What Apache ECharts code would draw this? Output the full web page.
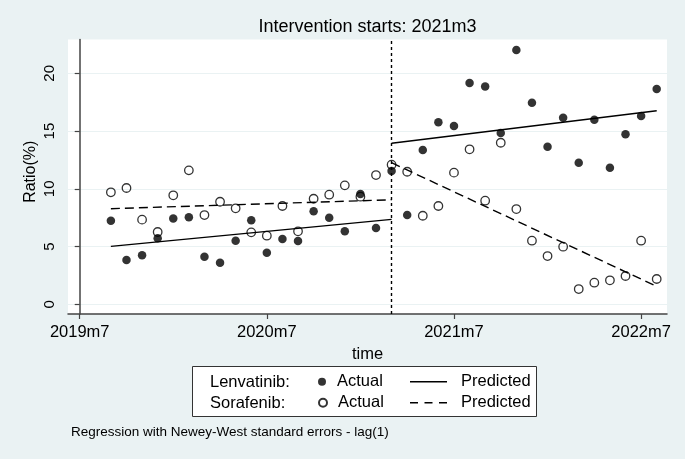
<!DOCTYPE html>
<html><head><meta charset="utf-8">
<script src="https://cdn.jsdelivr.net/npm/echarts@6/dist/echarts.min.js"></script>
<style>html,body{margin:0;padding:0;background:#eaf2f3}#c{width:685px;height:459px}</style>
</head><body><div id="c"></div>
<script>
// ---- data ----
const periods = ['2019m9','2019m10','2019m11','2019m12',
  '2020m1','2020m2','2020m3','2020m4','2020m5','2020m6','2020m7','2020m8','2020m9','2020m10','2020m11','2020m12',
  '2021m1','2021m2','2021m3','2021m4','2021m5','2021m6','2021m7','2021m8','2021m9','2021m10','2021m11','2021m12',
  '2022m1','2022m2','2022m3','2022m4','2022m5','2022m6','2022m7','2022m8'];
const lenvatinibActual = [7.24,3.84,4.24,5.71,7.44,7.53,4.12,3.60,5.51,7.27,4.47,5.65,5.48,8.05,7.50,6.32,9.55,6.61,
  11.54,7.73,13.36,15.76,15.44,19.16,18.87,14.83,22.02,17.46,13.65,16.16,12.26,15.98,11.83,14.72,16.30,18.64];
const sorafenibActual = [9.70,10.07,7.33,6.26,9.44,11.60,7.73,8.88,8.31,6.23,5.94,8.51,6.32,9.14,9.49,10.30,9.32,11.19,
  12.09,11.48,7.67,8.51,11.40,13.42,8.97,13.99,8.25,5.51,4.18,4.99,1.32,1.87,2.08,2.45,5.51,2.19];
const prePeriods = ['2019m9','2021m3'];
const postPeriods = ['2021m3','2022m8'];
const lenvatinibPredPre = [5.02, 7.35];
const lenvatinibPredPost = [13.94, 16.76];
const sorafenibPredPre = [8.28, 9.05];
const sorafenibPredPost = [12.26, 1.55];
const interventionPeriod = '2021m3';
const xTickLabels = ['2019m7','2020m7','2021m7','2022m7'];
const yTickValues = [0,5,10,15,20];

// ---- helpers ----
function monthIndex(p){ const a = p.split('m').map(Number); return (a[0]-2019)*12 + (a[1]-7); }
const xTickValues = xTickLabels.map(monthIndex);
const pairs = (ps, vs) => ps.map((p,i)=>[monthIndex(p), vs[i]]);
const FONT = "'Liberation Sans', Arial, sans-serif";
const AX = '#444';

const chart = echarts.init(document.getElementById('c'));
const lineSolid = 'path://M0,0H37V1.5H0Z';
const lineDash = 'path://M0,0H8V1.5H0Z M14.5,0H22.5V1.5H14.5Z M29,0H37V1.5H29Z';
function legendItem(name, left, top, w, icon, padLeft){
  return {data:[{name:name, icon:icon}], left:left, top:top, padding:0, itemWidth:w, itemHeight:18,
    z:10, selectedMode:false, formatter: n => n.split(': ')[1],
    textStyle:{fontFamily:FONT, fontSize:16.5, color:'#000', padding:[0,0,0,padLeft]}};
}
chart.setOption({
  backgroundColor:'#eaf2f3',
  animation:false,
  title:[
    {text:'Intervention starts: ' + interventionPeriod, left:367.5, top:18, textAlign:'center', padding:0,
     textStyle:{fontFamily:FONT, fontSize:18, fontWeight:'normal', color:'#000'}},
    {text:'Regression with Newey-West standard errors - lag(1)', left:71, top:425, padding:0,
     textStyle:{fontFamily:FONT, fontSize:13.5, fontWeight:'normal', color:'#000'}}
  ],
  grid:{left:68, right:18, top:39.5, bottom:145, show:true, backgroundColor:'#fff', borderWidth:0},
  xAxis:{type:'value', min:-0.75, max:37.66,
    name:'time', nameLocation:'middle', nameGap:26,
    nameTextStyle:{fontFamily:FONT, fontSize:16.5, color:'#000'},
    axisLine:{show:true, onZero:false, lineStyle:{color:AX, width:1.5}},
    axisTick:{show:true, length:5, customValues:xTickValues, lineStyle:{color:AX, width:1.2}},
    axisLabel:{customValues:xTickValues, margin:10, fontFamily:FONT, fontSize:16.5, color:'#000',
      formatter: v => xTickLabels[xTickValues.indexOf(v)]},
    splitLine:{show:false}},
  yAxis:{type:'value', min:-0.84, max:22.93,
    name:'Ratio(%)', nameLocation:'middle', nameGap:29, nameRotate:90, nameMoveOverlap:false,
    nameTextStyle:{fontFamily:FONT, fontSize:16, color:'#000', padding:[0,0,0,10]},
    axisLine:{show:true, lineStyle:{color:AX, width:1.5}},
    axisTick:{show:true, length:5, customValues:yTickValues, lineStyle:{color:AX, width:1.2}},
    axisLabel:{customValues:yTickValues, rotate:90, margin:11, fontFamily:FONT, fontSize:15, color:'#000'},
    splitLine:{show:true, lineStyle:{color:'#eaf2f3', width:1.2}}},
  legend:[
    legendItem('Lenvatinib: Actual', 318, 373.3, 8, 'circle', 6),
    legendItem('Sorafenib: Actual', 318, 394.3, 8, 'circle', 6),
    legendItem('Lenvatinib: Predicted', 410, 373.3, 37, lineSolid, 9),
    legendItem('Sorafenib: Predicted', 410, 394.3, 37, lineDash, 9)
  ],
  graphic:[
    {type:'rect', z:1, shape:{x:192.5, y:366.5, width:344, height:50},
     style:{fill:'#fff', stroke:'#333', lineWidth:1}},
    {type:'text', z:11, x:210, y:382.3, style:{text:'Lenvatinib:', fontFamily:FONT, fontSize:16.5, fill:'#000', verticalAlign:'middle'}},
    {type:'text', z:11, x:210, y:403.3, style:{text:'Sorafenib:', fontFamily:FONT, fontSize:16.5, fill:'#000', verticalAlign:'middle'}}
  ],
  series:[
    {name:'Lenvatinib: Predicted', type:'line', data:pairs(prePeriods, lenvatinibPredPre), symbol:'none',
     lineStyle:{color:'#000', width:1.4}, itemStyle:{color:'#000'},
     markLine:{silent:true, symbol:['none','none'], label:{show:false},
       lineStyle:{color:'#000', type:[3,3], width:1.4}, data:[{xAxis:monthIndex(interventionPeriod)}]}},
    {name:'Lenvatinib: Predicted', type:'line', data:pairs(postPeriods, lenvatinibPredPost), symbol:'none',
     lineStyle:{color:'#000', width:1.4}, itemStyle:{color:'#000'}},
    {name:'Sorafenib: Predicted', type:'line', data:pairs(prePeriods, sorafenibPredPre), symbol:'none',
     lineStyle:{color:'#000', width:1.4, type:[9,5]}, itemStyle:{color:'#000'}},
    {name:'Sorafenib: Predicted', type:'line', data:pairs(postPeriods, sorafenibPredPost), symbol:'none',
     lineStyle:{color:'#000', width:1.4, type:[9,5]}, itemStyle:{color:'#000'}},
    {name:'Lenvatinib: Actual', type:'scatter', data:pairs(periods, lenvatinibActual), symbol:'circle', symbolSize:8.5,
     itemStyle:{color:'#000'}},
    {name:'Sorafenib: Actual', type:'scatter', data:pairs(periods, sorafenibActual), symbol:'circle', symbolSize:8.5,
     itemStyle:{color:'rgba(255,255,255,0)', borderColor:'#000', borderWidth:1.3}}
  ]
});
</script></body></html>
